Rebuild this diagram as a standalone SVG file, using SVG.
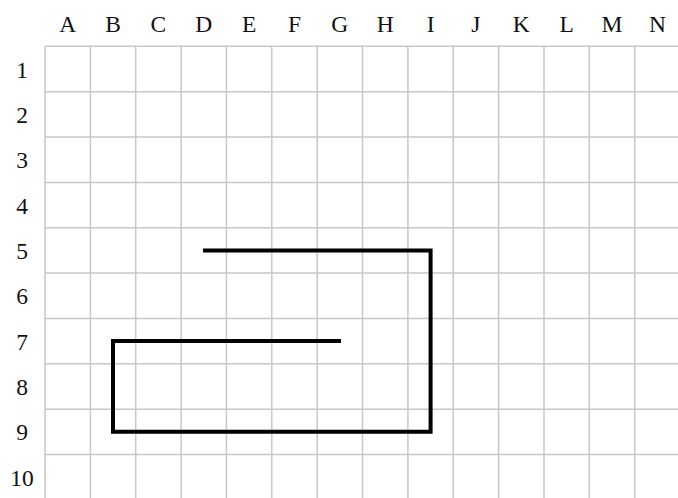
<svg xmlns="http://www.w3.org/2000/svg" width="678" height="498" viewBox="0 0 678 498">
<style>
.g{stroke:#c8c8c8;stroke-width:1.5;fill:none}
.lbl{font-family:"Liberation Serif","DejaVu Serif",serif;font-size:23.5px;fill:#111;text-anchor:middle}
.path{stroke:#000;stroke-width:4;fill:none;stroke-linejoin:miter;stroke-linecap:butt}
</style>
<rect width="678" height="498" fill="#fff"/>
<g id="grid">
<path class="g" d="M45,46.3V498M90.4,46.3V498M135.7,46.3V498M181.1,46.3V498M226.4,46.3V498M271.8,46.3V498M317.2,46.3V498M362.5,46.3V498M407.9,46.3V498M453.2,46.3V498M498.6,46.3V498M544,46.3V498M589.3,46.3V498M634.7,46.3V498"/>
<path class="g" d="M45,46.3H678M45,91.7H678M45,137H678M45,182.4H678M45,227.7H678M45,273.1H678M45,318.5H678M45,363.8H678M45,409.2H678M45,454.5H678"/>
</g>
<g id="col-labels" class="lbl">
<text x="67.7" y="31.5">A</text><text x="113" y="31.5">B</text><text x="158.4" y="31.5">C</text><text x="203.8" y="31.5">D</text><text x="249.1" y="31.5">E</text><text x="294.5" y="31.5">F</text><text x="339.8" y="31.5">G</text><text x="385.2" y="31.5">H</text><text x="430.6" y="31.5">I</text><text x="475.9" y="31.5">J</text><text x="521.3" y="31.5">K</text><text x="566.6" y="31.5">L</text><text x="612" y="31.5">M</text><text x="657.4" y="31.5">N</text>
</g>
<g id="row-labels" class="lbl">
<text x="22" y="77.5">1</text><text x="22" y="122.9">2</text><text x="22" y="168.2">3</text><text x="22" y="213.6">4</text><text x="22" y="258.9">5</text><text x="22" y="304.3">6</text><text x="22" y="349.7">7</text><text x="22" y="395">8</text><text x="22" y="440.4">9</text><text x="22" y="485.7">10</text>
</g>
<g id="connectors">
<path id="route" class="path" d="M203,250.4H430.6V431.8H113V341.1H341"/>
</g>
</svg>
